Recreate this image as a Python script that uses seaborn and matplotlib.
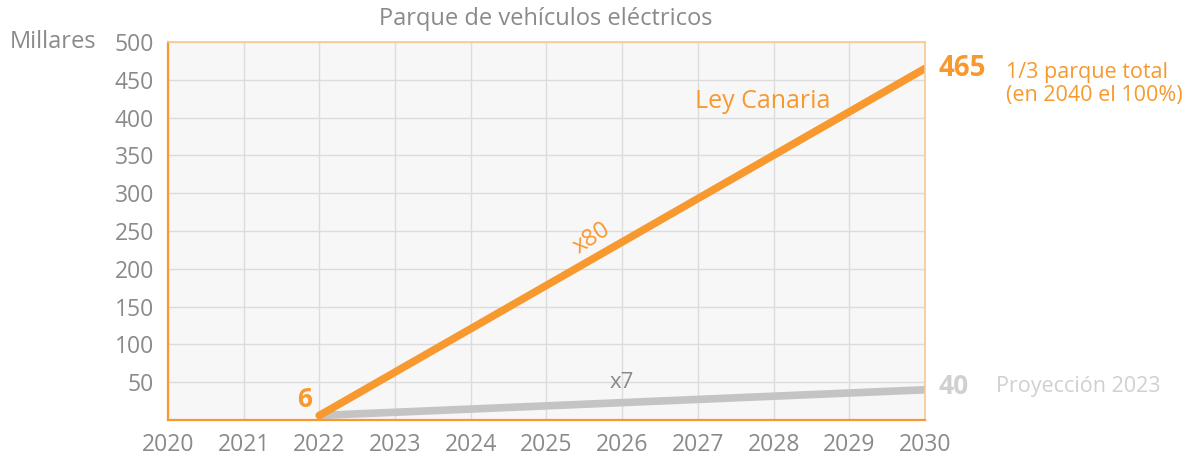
import matplotlib
matplotlib.use("Agg")
import matplotlib.pyplot as plt
import seaborn as sns
import pandas as pd

# Data (thousands of electric vehicles)
years = [2022, 2030]
ley_canaria = [6, 465]
proyeccion = [6, 40]
x_ticks = list(range(2020, 2031))
y_ticks = [50, 100, 150, 200, 250, 300, 350, 400, 450, 500]

ORANGE = "#F7992F"
GREY_LINE = "#C4C4C4"
TEXT = "#8A8A8A"
LIGHT = "#D0D0D0"

sns.set_theme(style="whitegrid")
plt.rcParams["font.family"] = ["Open Sans", "DejaVu Sans"]

df = pd.DataFrame({
    "year": years * 2,
    "value": ley_canaria + proyeccion,
    "serie": ["Ley Canaria"] * 2 + ["Proyección 2023"] * 2,
})

fig = plt.figure(figsize=(12.04, 4.61), dpi=100)
ax = fig.add_axes([0.1395, 0.0889, 0.6288, 0.82])
ax.set_facecolor("#F7F7F7")

sns.lineplot(data=df[df.serie == "Proyección 2023"], x="year", y="value",
             color=GREY_LINE, lw=5.5, ax=ax, legend=False, solid_capstyle="round")
sns.lineplot(data=df[df.serie == "Ley Canaria"], x="year", y="value",
             color=ORANGE, lw=5.5, ax=ax, legend=False, solid_capstyle="round")

ax.set_xlim(2020, 2030)
ax.set_ylim(0, 500)
ax.set_xticks(x_ticks)
ax.set_yticks(y_ticks)
ax.set_xlabel("")
ax.set_ylabel("")
ax.grid(True, color="#DCDCDC", lw=1)
ax.tick_params(axis="both", labelsize=16.5, labelcolor=TEXT, length=6, width=1.2)
ax.tick_params(axis="x", color=ORANGE, pad=3)
ax.tick_params(axis="y", color="#DCDCDC", pad=4)
ax.set_yticks([0], minor=True)
ax.tick_params(axis="y", which="minor", color=ORANGE, length=10, width=1.5)

for side in ["left", "bottom"]:
    ax.spines[side].set_color(ORANGE)
    ax.spines[side].set_linewidth(1.6)
for side in ["top", "right"]:
    ax.spines[side].set_color("#F9C88E")
    ax.spines[side].set_linewidth(1.2)

fig.text(0.453, 0.958, "Parque de vehículos eléctricos", ha="center", va="center",
         fontsize=17, color=TEXT)
fig.text(0.008, 0.908, "Millares", ha="left", va="center", fontsize=17, color=TEXT)

# Value labels
ax.annotate(f"{ley_canaria[0]}", (years[0], ley_canaria[0]), xytext=(-5, 2),
            textcoords="offset points", ha="right", va="bottom",
            fontsize=19, fontweight="bold", color=ORANGE)
ax.annotate(f"{ley_canaria[1]}", (years[1], ley_canaria[1]), xytext=(10, 0),
            textcoords="offset points", ha="left", va="center",
            fontsize=20, fontweight="bold", color=ORANGE, annotation_clip=False)
ax.annotate("1/3 parque total\n(en 2040 el 100%)", (years[1], ley_canaria[1]),
            xytext=(58, -11), textcoords="offset points", ha="left", va="center",
            fontsize=15.5, color=ORANGE, linespacing=1.15, annotation_clip=False)
ax.annotate(f"{proyeccion[1]}", (years[1], proyeccion[1]), xytext=(10, 2),
            textcoords="offset points", ha="left", va="center",
            fontsize=19, fontweight="bold", color=LIGHT, annotation_clip=False)
ax.annotate("Proyección 2023", (years[1], proyeccion[1]), xytext=(51, 2),
            textcoords="offset points", ha="left", va="center",
            fontsize=15.5, color=LIGHT, annotation_clip=False)

ax.text(2027.85, 421, "Ley Canaria", ha="center", va="center", fontsize=18, color=ORANGE)
ax.text(2025.6, 240, "x80", ha="center", va="center", fontsize=17, color=ORANGE,
        rotation=33)
ax.text(2026.0, 50, "x7", ha="center", va="center", fontsize=16, color=TEXT)

fig.savefig("out.png", dpi=100)
